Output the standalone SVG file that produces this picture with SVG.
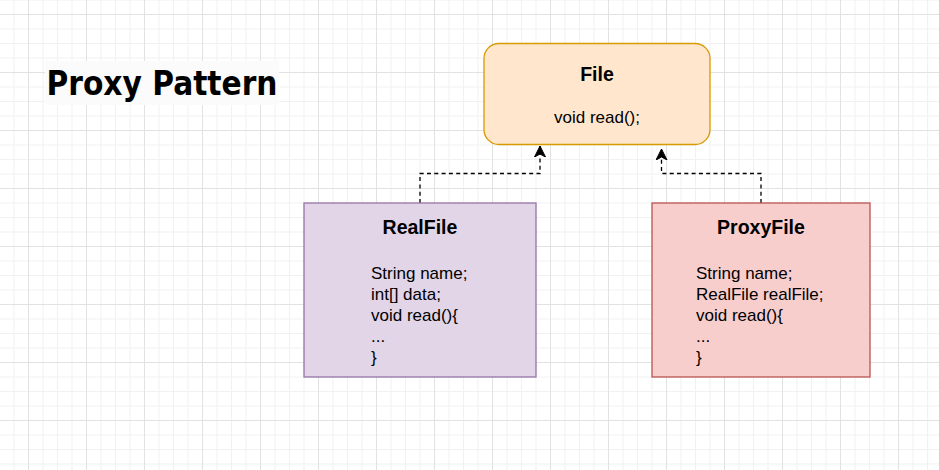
<svg xmlns="http://www.w3.org/2000/svg" width="939" height="470" viewBox="0 0 939 470">
  <defs>
    <pattern id="grid" patternUnits="userSpaceOnUse" x="28" y="14" width="58" height="58">
      <rect x="14.5" y="0" width="1" height="58" fill="#f1f1f1"/>
      <rect x="29" y="0" width="1" height="58" fill="#f1f1f1"/>
      <rect x="43.5" y="0" width="1" height="58" fill="#f1f1f1"/>
      <rect x="0" y="14.5" width="58" height="1" fill="#f1f1f1"/>
      <rect x="0" y="29" width="58" height="1" fill="#f1f1f1"/>
      <rect x="0" y="43.5" width="58" height="1" fill="#f1f1f1"/>
      <rect x="0" y="0" width="1" height="58" fill="#e2e2e2"/>
      <rect x="0" y="0" width="58" height="1" fill="#e2e2e2"/>
    </pattern>
    <marker id="arrow" viewBox="0 0 12 12" refX="11" refY="6" markerWidth="12" markerHeight="12" markerUnits="userSpaceOnUse" orient="auto">
      <path d="M0,0.5 L11,6 L0,11.5 L3,6 Z" fill="#000" stroke="#000" stroke-width="1" stroke-linejoin="miter"/>
    </marker>
  </defs>
  <style>
    .title { font-family: "Liberation Sans", Arial, sans-serif; font-weight: bold; font-size: 19.5px; fill: #000; }
    .body { font-family: "Liberation Sans", Arial, sans-serif; font-size: 17px; fill: #000; }
    .conn { fill: none; stroke: #000; stroke-width: 1.3; stroke-dasharray: 4 3.3; }
  </style>
  <rect width="939" height="470" fill="#ffffff"/>
  <rect width="939" height="470" fill="url(#grid)"/>

  <g id="heading">
    <rect x="45" y="61" width="234" height="44" fill="#fbfbfb"/>
    <text x="46.5" y="95" font-family="DejaVu Sans, sans-serif" font-weight="bold" font-size="33" textLength="231" lengthAdjust="spacingAndGlyphs" fill="#000">Proxy Pattern</text>
  </g>

  <g id="connectors">
    <path class="conn" d="M420,203 V173.5 H540 V146" marker-end="url(#arrow)"/>
    <path class="conn" d="M761,203 V173.5 H661.5 V149" marker-end="url(#arrow)"/>
  </g>

  <g id="file">
    <rect x="484" y="43.5" width="226" height="101" rx="15" ry="15" fill="#ffe6cc" stroke="#d79b00" stroke-width="1.3"/>
    <text class="title" x="597" y="80.5" text-anchor="middle">File</text>
    <text class="body" x="597" y="123" text-anchor="middle">void read();</text>
  </g>

  <g id="realfile">
    <rect x="304" y="203" width="232" height="174" fill="#e1d5e7" stroke="#9673a6" stroke-width="1.3"/>
    <text class="title" x="420" y="233.5" text-anchor="middle">RealFile</text>
    <text class="body" x="371" y="279">String name;</text>
    <text class="body" x="371" y="300">int[] data;</text>
    <text class="body" x="371" y="321">void read(){</text>
    <text class="body" x="371" y="342">...</text>
    <text class="body" x="371" y="363">}</text>
  </g>

  <g id="proxyfile">
    <rect x="652" y="203" width="218" height="174" fill="#f8cecc" stroke="#b85450" stroke-width="1.3"/>
    <text class="title" x="761" y="233.5" text-anchor="middle">ProxyFile</text>
    <text class="body" x="696" y="279">String name;</text>
    <text class="body" x="696" y="300">RealFile realFile;</text>
    <text class="body" x="696" y="321">void read(){</text>
    <text class="body" x="696" y="342">...</text>
    <text class="body" x="696" y="363">}</text>
  </g>
</svg>
